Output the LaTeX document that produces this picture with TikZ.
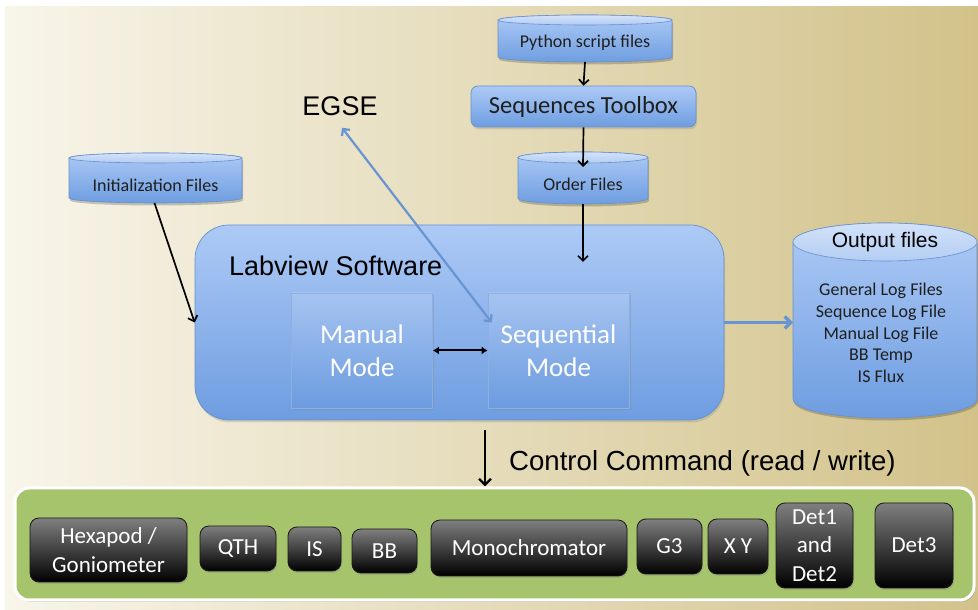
\documentclass[tikz,border=0pt]{standalone}
\usepackage{fontspec}
\setmainfont{Carlito}
\newfontfamily\arialf{Liberation Sans}
\usetikzlibrary{arrows.meta,shadows,calc}
\definecolor{bgL}{HTML}{F8F5EA}
\definecolor{bgR}{HTML}{D2C28A}
\definecolor{bluT}{HTML}{ADCAF6}
\definecolor{bluB}{HTML}{6E9DE0}
\definecolor{bluD}{HTML}{6890CC}
\definecolor{capT}{HTML}{D2E2F9}
\definecolor{capB}{HTML}{B3CDF3}
\definecolor{modT}{HTML}{A6C4F1}
\definecolor{modB}{HTML}{6B9BDF}
\definecolor{grn}{HTML}{A6C46C}
\definecolor{arrb}{HTML}{6894D2}
\newcommand{\drawcyl}[5]{%
 \fill[black,opacity=0.2] ({#1+1},{610-#3-#5-2.5}) -- ({#1+1},{610-#4+#5-2.5}) arc[start angle=180,end angle=360,x radius={(#2-#1)/2},y radius=#5] -- ({#2+1},{610-#3-#5-2.5}) -- cycle;
 \shade[top color=bluT,bottom color=bluB,draw=bluD,line width=0.6pt] ({#1},{610-#3-#5}) -- ({#1},{610-#4+#5}) arc[start angle=180,end angle=360,x radius={(#2-#1)/2},y radius=#5] -- ({#2},{610-#3-#5}) arc[start angle=0,end angle=180,x radius={(#2-#1)/2},y radius=#5] -- cycle;
 \shade[top color=capT,bottom color=capB,draw=bluD,line width=0.6pt] ({(#1+#2)/2},{610-#3-#5}) ellipse[x radius={(#2-#1)/2},y radius=#5];
}
\begin{document}
\begin{tikzpicture}[x=1pt,y=1pt,
 anch/.style={inner sep=0pt,outer sep=0pt},
 cyltext/.style={font=\fontsize{18}{21.7}\selectfont,text=black!88,inner sep=0pt,align=center},
 bluebox/.style={shade,top color=bluT,bottom color=bluB,draw=bluD,line width=0.7pt,inner sep=0pt,drop shadow={opacity=0.25,shadow xshift=1pt,shadow yshift=-2.5pt}},
 modebox/.style={shade,top color=modT,bottom color=modB,draw=modT!60!bluD,line width=0.7pt,inner sep=0pt,text=white,align=center,font=\fontsize{27}{33}\selectfont,minimum width=141pt,minimum height=115pt,drop shadow={opacity=0.3,shadow xshift=1.5pt,shadow yshift=-2.5pt}},
 btn/.style={shade,top color=black!50,middle color=black!80,bottom color=black,draw=black!90,line width=0.8pt,rounded corners=9pt,inner sep=0pt,text=white,align=center,font=\fontsize{23}{28.5}\selectfont,drop shadow={opacity=0.3,shadow xshift=1pt,shadow yshift=-2pt}},
 blk/.style={line width=1.7pt,-{Straight Barb[length=5pt,width=10pt]}},
]
\useasboundingbox (0,0) rectangle (978,610);
\fill[white] (0,0) rectangle (978,610);
\shade[left color=bgL,right color=bgR] (5,0) rectangle (978,603);

% cylinders
\drawcyl{498}{672}{15}{62}{5}
\drawcyl{518}{648}{152}{204}{5.5}
\drawcyl{69}{242}{153}{203}{5}
\drawcyl{793}{977}{223}{418}{19}

\node[anch,minimum width=174pt,minimum height=47pt] (pyc) at (585,571.5) {};
\node[cyltext] (py) at (585,567) {Python script files};
\node[anch,minimum width=130pt,minimum height=52pt] (ordc) at (583,432) {};
\node[cyltext] (ord) at (583,426) {Order Files};
\node[anch,minimum width=173pt,minimum height=50pt] (initc) at (155.5,432) {};
\node[cyltext] (init) at (155.5,425) {Initialization Files};
\node[anch,minimum width=184pt,minimum height=195pt] (outc) at (885,289.5) {};
\node[inner sep=0pt,font=\arialf\fontsize{21}{25}\selectfont] (outt) at (885,368) {Output files};
\node[cyltext] (outl) at (881,277) {General Log Files\\Sequence Log File\\Manual Log File\\BB Temp\\IS Flux};

% sequences toolbox
\node[bluebox,rounded corners=7pt,minimum width=225pt,minimum height=41pt,font=\fontsize{24.5}{28}\selectfont,text=black!88] (seq) at (583.5,503.5) {Sequences Toolbox};

% labview
\node[bluebox,rounded corners=34pt,minimum width=529pt,minimum height=195pt] (lab) at (459.5,287.5) {};
\node[anchor=west,inner sep=0pt,font=\arialf\fontsize{27}{32}\selectfont] (labt) at (229,344) {Labview Software};
\node[modebox] (man) at (362,259.5) {Manual\\Mode};
\node[modebox] (seqm) at (558.5,259.5) {Sequential\\Mode};

\node[inner sep=0pt,font=\arialf\fontsize{27}{30}\selectfont] (egse) at (340,504) {EGSE};

% green bar
\node[fill=grn,draw=white,line width=3pt,rounded corners=14pt,minimum width=959pt,minimum height=112pt,drop shadow={opacity=0.3,shadow xshift=1.5pt,shadow yshift=-2pt}] (bar) at (494.5,66) {};
\node[btn,minimum width=157pt,minimum height=64pt] (hex) at (108.5,60) {Hexapod /\\Goniometer};
\node[btn,minimum width=76pt,minimum height=45pt] (qth) at (238,61.5) {QTH};
\node[btn,minimum width=53pt,minimum height=44pt] (is) at (314.5,61) {IS};
\node[btn,minimum width=65pt,minimum height=44pt] (bb) at (384.5,59) {BB};
\node[btn,minimum width=196pt,minimum height=56pt] (mono) at (529,62) {Monochromator};
\node[btn,minimum width=65pt,minimum height=55pt] (g3) at (669.5,63.5) {G3};
\node[btn,minimum width=60pt,minimum height=55pt] (xy) at (738,63.5) {X Y};
\node[btn,minimum width=77pt,minimum height=85pt] (det12) at (814.5,64.5) {Det1\\and\\Det2};
\node[btn,minimum width=78pt,minimum height=85pt] (det3) at (914,64.5) {Det3};

\node[anchor=west,inner sep=0pt,font=\arialf\fontsize{27.6}{32}\selectfont] (cmd) at (509,147) {Control Command (read / write)};

% connectors
\draw[blk] (pyc.south) -- (seq.north);
\draw[blk] (seq.south) -- ([yshift=-15pt]ordc.north);
\coordinate (ordtip) at (583,348);
\draw[blk] (ordc.south) -- (ordtip);
\draw[blk] ([xshift=-1pt]initc.south) -- (lab.west);
\draw[line width=2pt,{Latex[length=6pt,width=8pt]}-{Latex[length=6pt,width=8pt]}] (man.east) -- (seqm.west);
\draw[arrb,line width=2.2pt,{Straight Barb[length=5pt,width=10pt]}-{Straight Barb[length=5pt,width=10pt]}] ([xshift=2pt,yshift=-12pt]egse.south) -- ($(seqm.west)+(4pt,28pt)$);
\draw[arrb,line width=3.2pt,-{Straight Barb[length=6pt,width=12pt]}] (lab.east) -- (lab.east -| outc.west);
\coordinate (cmdtop) at (485,180);
\draw[line width=2.4pt,-{Straight Barb[length=6pt,width=12pt]}] (cmdtop) -- (cmdtop |- bar.north);
\end{tikzpicture}
\end{document}
